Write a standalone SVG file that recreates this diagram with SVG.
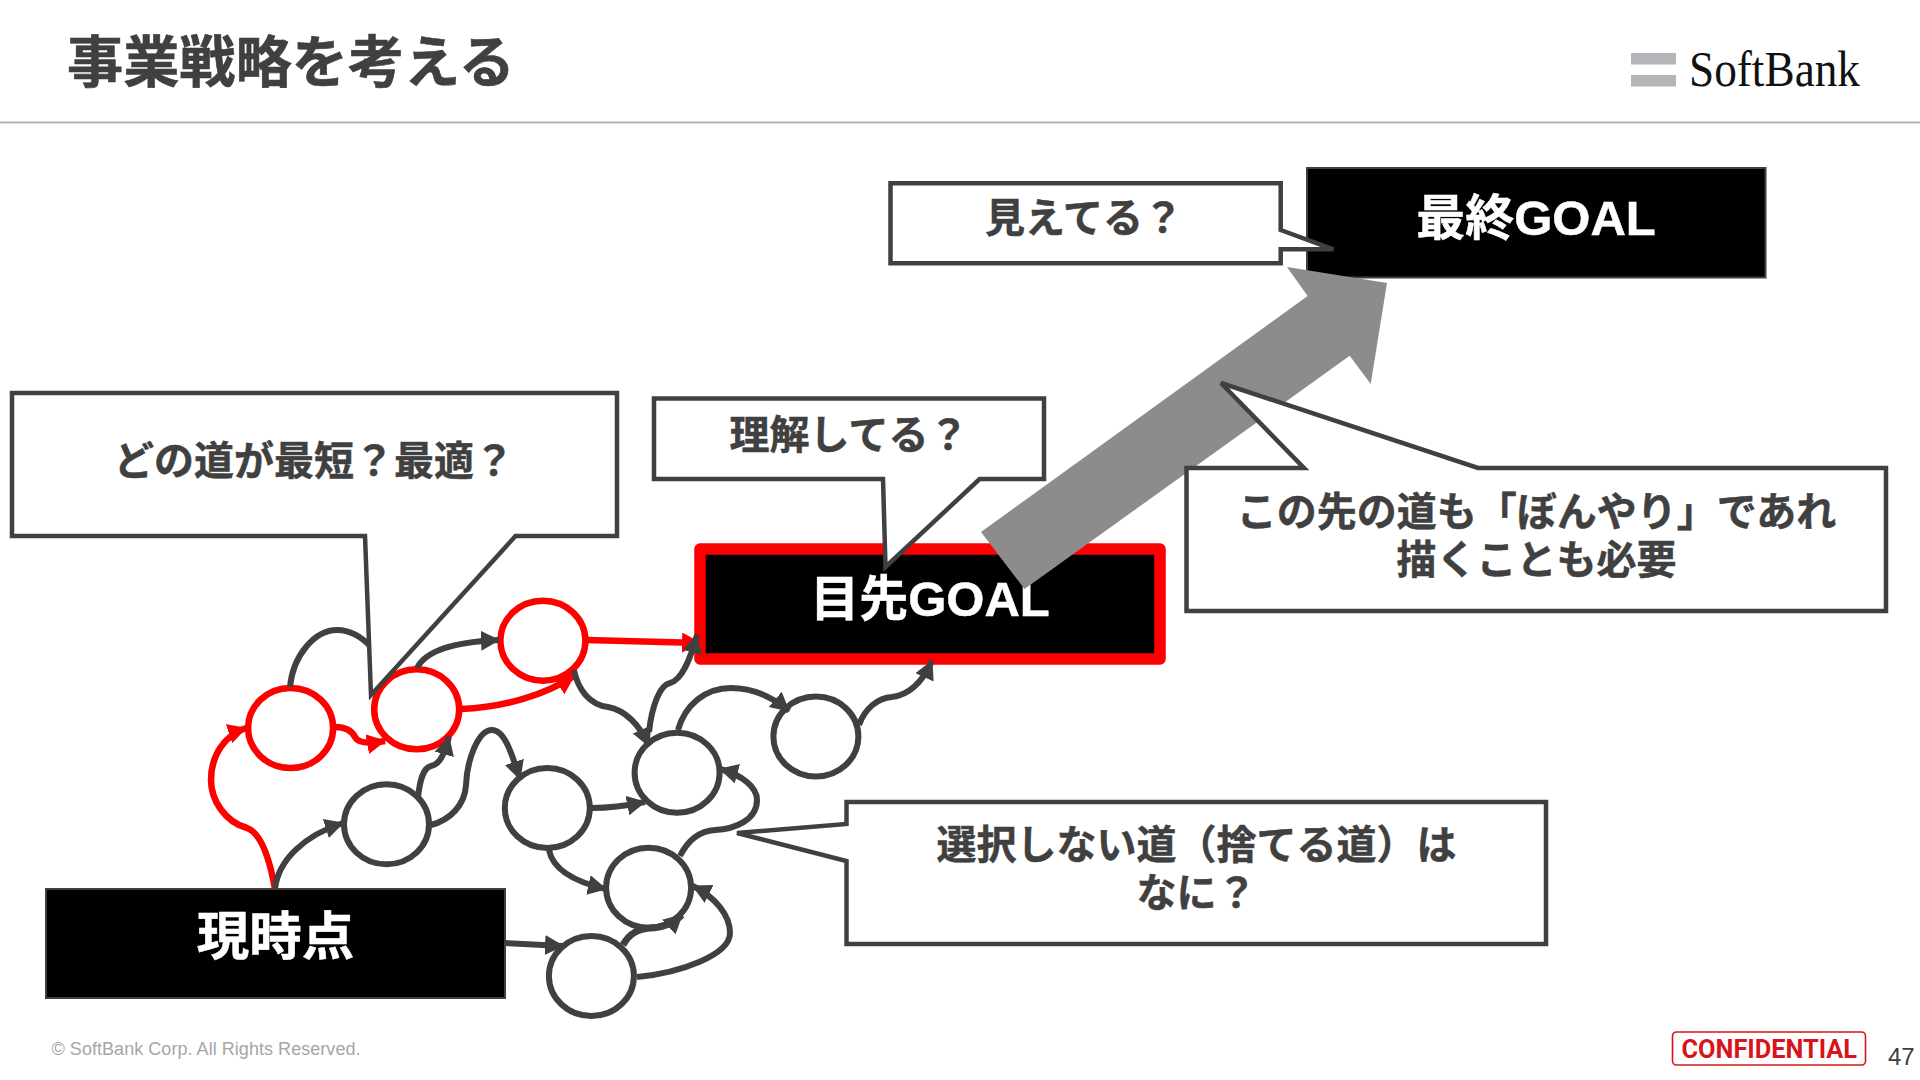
<svg xmlns="http://www.w3.org/2000/svg" width="1920" height="1080" viewBox="0 0 1920 1080">
<style>
text{font-family:"Liberation Sans","Noto Sans CJK JP",sans-serif;font-weight:700}
.c{font-size:40px;fill:#404040;stroke:#404040;stroke-width:.5;text-anchor:middle}
.w{fill:#fff;stroke:#fff;stroke-width:.5;text-anchor:middle;font-size:49px}
.box{fill:#000;stroke:#404040;stroke-width:2}
.callout{fill:#fff;stroke:#404040;stroke-width:4.5;stroke-linejoin:miter}
.g{fill:#fff;stroke:#404040;stroke-width:6}
.r{fill:#fff;stroke:#f00;stroke-width:6.5}
.lg{fill:none;stroke:#404040;stroke-width:6;marker-end:url(#ag)}
.lh{fill:none;stroke:#404040;stroke-width:6}
.lr{fill:none;stroke:#f00;stroke-width:6.5;marker-end:url(#ar)}
</style>
<defs>
<marker id="ag" markerUnits="userSpaceOnUse" markerWidth="22" markerHeight="22" refX="18" refY="10" orient="auto"><path d="M0,0 L19,10 L0,20 z" fill="#404040"/></marker>
<marker id="ar" markerUnits="userSpaceOnUse" markerWidth="22" markerHeight="22" refX="18" refY="10" orient="auto"><path d="M0,0 L19,10 L0,20 z" fill="#f00"/></marker>
</defs>
<rect width="1920" height="1080" fill="#fff"/>
<g id="header">
<text x="67" y="82" style="font-size:56.2px;fill:#404040;stroke:#404040;stroke-width:.6">事業戦略を考える</text>
<line x1="0" y1="122.5" x2="1920" y2="122.5" stroke="#b4b4b4" stroke-width="2"/>
<rect x="1631" y="53" width="45" height="11.5" fill="#b4b6b9"/>
<rect x="1631" y="75" width="45" height="11.5" fill="#b4b6b9"/>
<text x="1689" y="86" style="font-family:'Liberation Serif',serif;font-weight:400;font-size:50px;fill:#111" textLength="171" lengthAdjust="spacingAndGlyphs">SoftBank</text>
</g>
<g id="node-now"><rect class="box" x="46" y="889" width="459" height="109"/><text class="w" x="275.5" y="955" style="font-size:52.5px">現時点</text></g>
<g id="node-goal-near"><rect x="700" y="549" width="460" height="110" fill="#000" stroke="#f00" stroke-width="11.5" stroke-linejoin="round"/><text class="w" x="930" y="616">目先GOAL</text></g>
<g id="node-goal-final"><rect class="box" x="1307" y="168" width="458.5" height="109.5"/><text class="w" x="1536" y="235">最終GOAL</text></g>
<g id="node-a"><ellipse class="r" cx="290.6" cy="728" rx="42.5" ry="40"/></g>
<g id="node-b"><ellipse class="r" cx="416.7" cy="709.3" rx="42.5" ry="40"/></g>
<g id="node-c"><ellipse class="r" cx="542.9" cy="640.7" rx="42.5" ry="40"/></g>
<g id="node-d"><ellipse class="g" cx="386.5" cy="824.3" rx="42.5" ry="40"/></g>
<g id="node-e"><ellipse class="g" cx="547.3" cy="808" rx="42.5" ry="40"/></g>
<g id="node-f"><ellipse class="g" cx="677.1" cy="772.7" rx="42.5" ry="40"/></g>
<g id="node-g"><ellipse class="g" cx="648.6" cy="887.7" rx="42.5" ry="40"/></g>
<g id="node-h"><ellipse class="g" cx="591.4" cy="976" rx="42.5" ry="40"/></g>
<g id="node-i"><ellipse class="g" cx="815.9" cy="736.5" rx="42.5" ry="40"/></g>
<g id="connectors">
<path class="lr" d="M275,889 C268,850 258,832 247,828 C225,822 211,800 211,780 C211,755 225,735 246,728"/>
<path class="lr" d="M335,727 C345,727 352,731 355,737 C358,743 368,744 385,741"/>
<path class="lr" d="M461,709 C505,707 545,695 574,676"/>
<path class="lr" d="M587,640 L700,643"/>
<path class="lh" d="M290,687 C293,655 315,630 337,630 C350,630 362,637 372,648"/>
<path class="lg" d="M417,668 C425,652 450,642 499,640"/>
<path class="lg" d="M275,889 C278,860 305,835 343,823"/>
<path class="lg" d="M418,797 C420,780 423,768 431,766 C440,764 444,755 449,737"/>
<path class="lg" d="M431,825 C450,820 465,805 466,785 C467,760 478,730 492,730 C505,730 512,755 520,779"/>
<path class="lg" d="M592,808 C610,808 625,806 645,802"/>
<path class="lg" d="M549,850 C553,870 575,882 606,889"/>
<path class="lg" d="M574,670 C578,690 590,705 608,707 C625,710 640,725 649,746"/>
<path class="lg" d="M649,732 C652,705 660,685 670,683 C682,680 690,660 697,635"/>
<path class="lg" d="M678,730 C685,705 705,688 731,688 C750,688 770,695 789,711"/>
<path class="lg" d="M859,725 C865,708 878,698 892,697 C908,695 922,683 932,661"/>
<path class="lg" d="M680,856 C688,840 700,831 715,830 C735,829 757,820 757,800 C757,787 742,775 720,769"/>
<path class="lg" d="M505,943 L563,946"/>
<path class="lg" d="M623,945 C630,932 640,929 650,928 C660,928 670,926 682,915" style="stroke-width:7"/>
<path class="lg" d="M637,977 C680,973 730,955 730,933 C730,915 715,897 693,886"/>
</g>
<polygon id="big-arrow" points="981,532 1307.6,296 1287,267 1387,283 1370.7,384 1349.7,355.7 1024.5,589" fill="#8c8c8c"/>
<g id="callout-path"><path class="callout" d="M12,393 H617 V536 H515.5 L371,695 L365,536 H12 Z"/><text class="c" x="314" y="475">どの道が最短？最適？</text></g>
<g id="callout-near"><path class="callout" d="M654,398.500 H1044 V479 H979.6 L885.500,567 L883,479 H654 Z"/><text class="c" x="849" y="449">理解してる？</text></g>
<g id="callout-final"><path class="callout" d="M890.5,183.3 H1280.7 V230 L1333.4,249.3 H1280.700 V263.3 H890.5 Z"/><text class="c" x="1084" y="232">見えてる？</text></g>
<g id="callout-ahead"><path class="callout" d="M1186.5,468 H1304 L1221,383 L1478,468 H1886 V611 H1186.5 Z"/><text class="c" x="1536.500" y="526">この先の道も「ぼんやり」であれ</text><text class="c" x="1536.500" y="574">描くことも必要</text></g>
<g id="callout-discard"><path class="callout" d="M846.500,802 H1546 V944 H846.500 V861 L737,833 L846.500,824 Z"/><text class="c" x="1196.500" y="859">選択しない道（捨てる道）は</text><text class="c" x="1196.500" y="907">なに？</text></g>
<g id="footer">
<text x="51.500" y="1055" style="font-weight:400;font-size:18px;fill:#a6a6a6" textLength="309">© SoftBank Corp. All Rights Reserved.</text>
<rect x="1672.5" y="1032" width="193" height="33" rx="4" fill="#fff" stroke="#d7141a" stroke-width="1.6"/>
<text x="1681.5" y="1058" style="font-family:Roboto,sans-serif;font-size:26px;fill:#d7141a" textLength="175.5" lengthAdjust="spacingAndGlyphs">CONFIDENTIAL</text>
<text x="1888" y="1065" style="font-weight:400;font-size:24px;fill:#404040">47</text>
</g>
</svg>
